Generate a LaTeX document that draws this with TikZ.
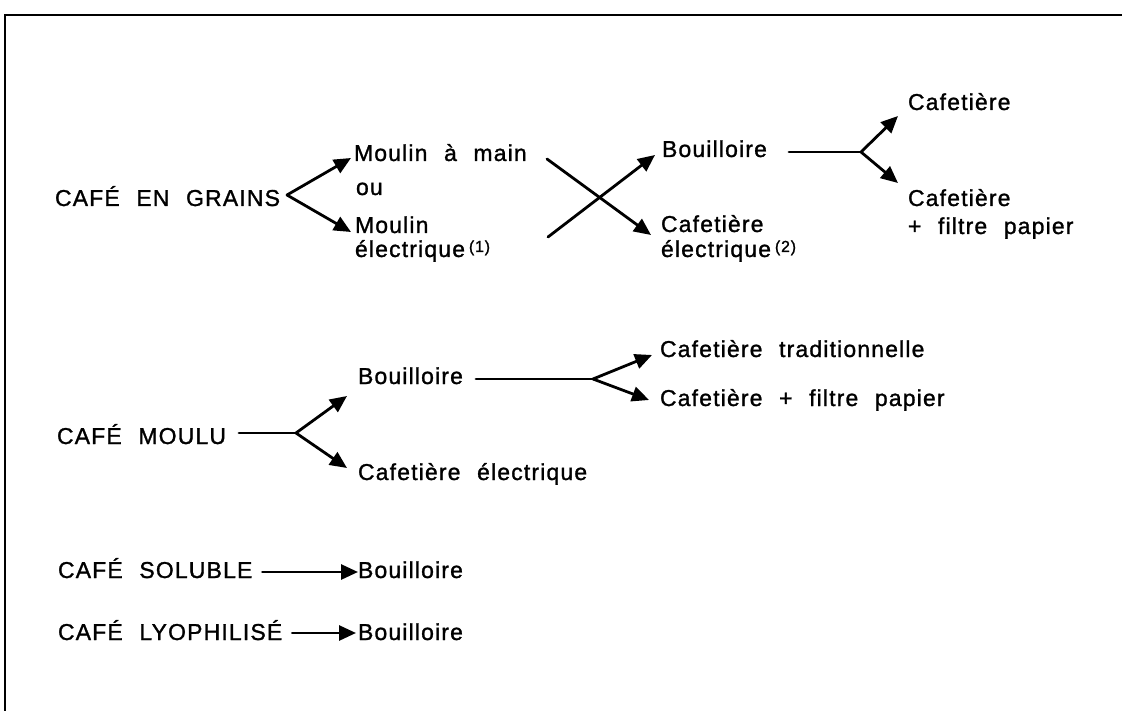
\documentclass[tikz,border=0pt]{standalone}
\usepackage{fontspec}
\setmainfont[LetterSpace=5,WordSpace=2.2,FakeBold=1.2]{Liberation Sans}
\usetikzlibrary{arrows.meta}
\tikzset{
  lbl/.style={anchor=base west,inner sep=0pt,outer sep=0pt,font=\fontsize{23}{27}\selectfont},
  conn/.style={line width=2.8pt,line cap=round},
  arr/.style={conn,-{Triangle[length=17pt,width=15pt]}},
  frame/.style={line width=2.8pt}
}
\newcommand{\noteref}[1]{\,\raisebox{5pt}{\fontsize{16}{16}\selectfont(#1)}}
\begin{document}
\begin{tikzpicture}[x=1pt,y=-1pt]
\useasboundingbox[fill=white] (0,0) rectangle (1122,711);
% frame
\draw[frame] (5,730) -- (5,15) -- (1130,15);

% ---- CAFE EN GRAINS ----
\node[lbl] (g) at (55,206) {CAFÉ EN GRAINS};
\node[lbl] (m1) at (354,161) {Moulin à main};
\node[lbl] (ou) at (356,195) {ou};
\node[lbl] (m2a) at (355,233) {Moulin};
\node[lbl] (m2b) at (355,257) {électrique\noteref{1}};
\coordinate (v1) at (287,195);
\coordinate (t1) at (351,158);
\coordinate (t2) at (351,232);
\draw[arr] (v1) -- (t1);
\draw[arr] (v1) -- (t2);

\node[lbl] (b1) at (662,157) {Bouilloire};
\node[lbl] (c1a) at (661,232) {Cafetière};
\node[lbl] (c1b) at (661,257) {électrique\noteref{2}};
\coordinate (xa) at (547,159);
\coordinate (xb) at (548,237);
\coordinate (t3) at (651,235);
\coordinate (t4) at (655,155);
\draw[arr] (xa) -- (t3);
\draw[arr] (xb) -- (t4);

\node[lbl] (c2) at (908,110) {Cafetière};
\node[lbl] (c3a) at (908,206) {Cafetière};
\node[lbl] (c3b) at (908,234) {+ filtre papier};
\coordinate (s2) at (789,152);
\coordinate (v2) at (861,152);
\coordinate (t5) at (898,116);
\coordinate (t6) at (898,183);
\draw[conn] (s2) -- (v2);
\draw[arr] (v2) -- (t5);
\draw[arr] (v2) -- (t6);

% ---- CAFE MOULU ----
\node[lbl] (mo) at (57,444) {CAFÉ MOULU};
\node[lbl] (b2) at (358,384) {Bouilloire};
\node[lbl] (ce) at (358,480) {Cafetière électrique};
\coordinate (s3) at (239,433);
\coordinate (v3) at (296,433);
\coordinate (t7) at (347,396);
\coordinate (t8) at (347,468);
\draw[conn] (s3) -- (v3);
\draw[arr] (v3) -- (t7);
\draw[arr] (v3) -- (t8);

\node[lbl] (ct) at (660,357) {Cafetière traditionnelle};
\node[lbl] (cf) at (660,406) {Cafetière + filtre papier};
\coordinate (s4) at (476,379);
\coordinate (v4) at (593,379);
\coordinate (t9) at (652,355);
\coordinate (t10) at (649,400);
\draw[conn] (s4) -- (v4);
\draw[arr] (v4) -- (t9);
\draw[arr] (v4) -- (t10);

% ---- CAFE SOLUBLE ----
\node[lbl] (so) at (58,578) {CAFÉ SOLUBLE};
\node[lbl] (b3) at (358,578) {Bouilloire};
\draw[arr] ([xshift=10pt,yshift=6pt]so.base east) -- ([yshift=6pt]b3.base west);

% ---- CAFE LYOPHILISE ----
\node[lbl] (ly) at (58,640) {CAFÉ LYOPHILISÉ};
\node[lbl] (b4) at (358,640) {Bouilloire};
\draw[arr] ([xshift=10pt,yshift=7pt]ly.base east) -- ([xshift=-2pt,yshift=7pt]b4.base west);
\end{tikzpicture}
\end{document}
